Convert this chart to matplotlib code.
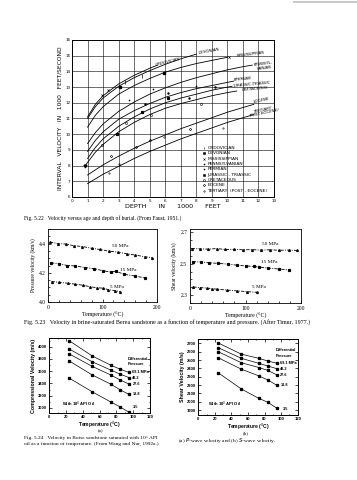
import matplotlib
matplotlib.use("Agg")
import matplotlib.pyplot as plt
from matplotlib.patches import Rectangle

W, H = 357, 480
SANS = "DejaVu Sans"
SERIF = "Liberation Serif"
HELV = "Liberation Sans"

# ---------------- Fig 5.22 data (depth in 1000 ft, velocity in 1000 ft/s) ----------------
ordo_d = [1.0, 1.5, 2, 3, 4, 5, 5.5]
ordo_v = [11.1, 11.9, 12.45, 13.2, 13.75, 14.2, 14.4]
devo_d = [1.0, 1.5, 2, 3, 4, 5, 6, 7, 8]
devo_v = [11.0, 11.75, 12.3, 13.05, 13.6, 14.05, 14.45, 14.8, 15.1]
miss_d = [1.0, 1.5, 2, 3, 4, 5, 6, 7, 8, 9, 10]
miss_v = [10.45, 11.2, 11.75, 12.55, 13.1, 13.55, 13.95, 14.25, 14.5, 14.7, 14.9]
penn_d = [1.0, 1.5, 2, 3, 4, 5, 6, 7, 8, 9, 10, 11, 11.6]
penn_v = [9.4, 10.1, 10.65, 11.45, 12.05, 12.55, 12.95, 13.3, 13.6, 13.85, 14.1, 14.3, 14.4]
perm_d = [1.0, 1.5, 2, 3, 4, 5, 6, 7, 8, 9, 10, 10.4]
perm_v = [8.9, 9.6, 10.15, 10.95, 11.5, 11.95, 12.35, 12.65, 12.9, 13.1, 13.3, 13.38]
jura_d = [1.0, 1.5, 2, 3, 4, 5, 6, 7, 8, 9, 10, 10.3]
jura_v = [8.45, 9.15, 9.7, 10.5, 11.1, 11.6, 12.0, 12.3, 12.55, 12.8, 13.0, 13.05]
cret_d = [0.85, 1.0, 1.5, 2, 3, 4, 5, 6, 7, 8, 9, 10, 10.6]
cret_v = [8.0, 8.2, 8.85, 9.35, 10.15, 10.75, 11.25, 11.65, 11.95, 12.2, 12.45, 12.65, 12.75]
eoc_d = [1.0, 2, 3, 4, 5, 6, 7, 8, 9, 10, 11, 11.7]
eoc_v = [7.4, 8.05, 8.6, 9.1, 9.55, 9.95, 10.35, 10.7, 11.05, 11.4, 11.7, 11.9]
tert_d = [1.0, 2, 3, 4, 5, 6, 7, 8, 9, 10, 11, 11.7]
tert_v = [6.85, 7.45, 7.95, 8.45, 8.9, 9.3, 9.7, 10.05, 10.4, 10.75, 11.05, 11.25]

# observed points
pts_ordo = ([4.5, 3.4], [13.7, 13.3])
pts_devo = ([3.1, 5.9], [13.0, 13.9])
pts_miss = ([1.9, 2.3, 10.1], [12.5, 12.8, 14.9])
pts_penn = ([5.2, 8.0, 3.7], [12.9, 13.1, 12.2])
pts_perm = ([4.7, 7.5, 9.2, 6.2], [11.9, 12.3, 13.0, 12.6])
pts_jura = ([6.2, 4.5, 2.9], [12.3, 11.4, 10.0])
pts_cret = ([3.5, 5.1, 8.3, 1.9], [10.7, 11.2, 11.9, 9.3])
pts_eoc = ([2.5, 4.1, 7.6, 5.0], [8.6, 9.2, 10.3, 9.6])
pts_tert = ([3.0, 5.9, 9.7, 2.4], [8.1, 9.8, 10.4, 7.5])
pts_start = ([0.85], [8.0])

legend_labels = ["ORDOVICIAN", "DEVONIAN", "MISSISSIPPIAN", "PENNSYLVANIAN", "PERMIAN",
                 "JURASSIC - TRIASSIC", "CRETACEOUS", "EOCENE", "TERTIARY  (POST - EOCENE)"]

# ---------------- Fig 5.23 data (temperature C, velocity km/s) ----------------
p50_T = [3, 18, 33, 48, 63, 80, 95, 112, 128, 145, 160, 178, 192]
p50_v = [4.41, 4.40, 4.397, 4.385, 4.38, 4.368, 4.36, 4.348, 4.342, 4.33, 4.322, 4.31, 4.303]
p15_T = [5, 20, 35, 50, 68, 85, 100, 115, 125, 140, 160, 178]
p15_v = [4.268, 4.262, 4.25, 4.247, 4.236, 4.228, 4.215, 4.205, 4.21, 4.19, 4.178, 4.165]
p5_T = [6, 20, 37, 50, 64, 77, 89, 100, 111, 123, 133]
p5_v = [4.14, 4.135, 4.128, 4.122, 4.115, 4.105, 4.098, 4.095, 4.085, 4.078, 4.07]
s50_T = [3, 18, 33, 48, 63, 80, 95, 112, 128, 145, 160, 178, 192]
s50_v = [2.596, 2.594, 2.592, 2.596, 2.59, 2.591, 2.588, 2.589, 2.586, 2.588, 2.585, 2.586, 2.584]
s15_T = [5, 20, 35, 50, 68, 85, 100, 115, 125, 140, 160, 178]
s15_v = [2.513, 2.51, 2.505, 2.502, 2.497, 2.49, 2.486, 2.482, 2.478, 2.472, 2.466, 2.46]
s5_T = [6, 18, 30, 40, 49, 67, 85, 103, 121]
s5_v = [2.352, 2.348, 2.345, 2.34, 2.338, 2.332, 2.327, 2.322, 2.318]

# ---------------- Fig 5.24 data (temperature C, velocity m/s) ----------------
pres_labels = ["69.1 MPa", "48.2", "27.6", "13.8", "3.5"]
vp_T = [24, 51, 73, 84, 95]
vp = [[4095, 3850, 3700, 3635, 3580],
      [3960, 3755, 3620, 3555, 3495],
      [3880, 3680, 3540, 3460, 3390],
      [3765, 3540, 3390, 3300, 3220],
      [3485, 3265, 3100, 3020, 2930]]
vs_T = [24, 52, 73, 84, 95]
vs = [[2705, 2570, 2520, 2488, 2460],
      [2648, 2520, 2460, 2428, 2395],
      [2600, 2467, 2410, 2375, 2320],
      [2527, 2390, 2310, 2260, 2195],
      [2347, 2152, 2040, 1992, 1920]]

fig = plt.figure(figsize=(W / 100, H / 100), dpi=100)


def ax_px(x0, y0, x1, y1):
    return fig.add_axes([x0 / W, 1 - y1 / H, (x1 - x0) / W, (y1 - y0) / H])


def ftext(x, y, s, **kw):
    fig.text(x / W, 1 - y / H, s, **kw)


# gray scan mark at top right
fig.add_artist(Rectangle((293 / W, 1 - 3 / H), 64 / W, 2 / H, transform=fig.transFigure,
                         color="#c8c8c8", lw=0))

# ================= Fig 5.22 =================
ax1 = ax_px(72, 40, 274, 197)
ax1.set_xlim(0, 13)
ax1.set_ylim(6, 16)
ax1.set_xticks(range(0, 14))
ax1.set_yticks(range(6, 17))
ax1.grid(True, color="k", lw=0.4)
ax1.tick_params(length=0, labelsize=3.0, pad=1.2)
for lab in ax1.get_xticklabels() + ax1.get_yticklabels():
    lab.set_family(SANS)
for s in ax1.spines.values():
    s.set_linewidth(0.7)

for d, v in [(ordo_d, ordo_v), (devo_d, devo_v), (miss_d, miss_v), (penn_d, penn_v),
             (perm_d, perm_v), (jura_d, jura_v), (cret_d, cret_v), (eoc_d, eoc_v),
             (tert_d, tert_v)]:
    ax1.plot(d, v, color="k", lw=0.6)

mk = dict(color="k", ls="none")
ax1.plot(*pts_ordo, marker="|", ms=2.2, mew=0.5, **mk)
ax1.plot(*pts_devo, marker="s", ms=1.6, **mk)
ax1.plot(*pts_miss, marker="x", ms=1.6, mew=0.4, **mk)
ax1.plot(*pts_penn, marker="+", ms=1.8, mew=0.4, **mk)
ax1.plot(*pts_perm, marker=".", ms=1.5, **mk)
ax1.plot(*pts_jura, marker="s", ms=1.3, **mk)
ax1.plot(*pts_cret, marker="o", ms=1.5, mfc="none", mew=0.4, **mk)
ax1.plot(*pts_eoc, marker="D", ms=1.3, mfc="none", mew=0.4, **mk)
ax1.plot(*pts_tert, marker="o", ms=1.0, mfc="none", mew=0.4, **mk)
ax1.plot(*pts_start, marker="v", ms=2.0, **mk)

lab_kw = dict(fontsize=2.9, family=SANS, ha="center", va="center", style="italic")
ax1.text(6.2, 14.62, "ORDOVICIAN", rotation=14, **lab_kw)
ax1.text(8.85, 15.3, "DEVONIAN", rotation=10, **lab_kw)
ax1.text(11.5, 15.12, "MISSISSIPPIAN", rotation=7, **lab_kw)
ax1.text(12.35, 14.35, "PENNSYL-\nVANIAN", rotation=7, linespacing=0.9, **lab_kw)
ax1.text(11.0, 13.5, "PERMIAN", rotation=6, **lab_kw)
ax1.text(11.6, 13.17, "JURASSIC-TRIASSIC", rotation=5, **lab_kw)
ax1.text(11.75, 12.88, "CRETACEOUS", rotation=5, **lab_kw)
ax1.text(12.2, 12.15, "EOCENE", rotation=12, **lab_kw)
ax1.text(12.35, 11.45, "TERTIARY\n(POST-EOCENE)", rotation=12, linespacing=0.9, **lab_kw)

leg_markers = ["|", "s", "x", "+", ".", "s", "o", "D", "o"]
leg_fill = ["k", "k", "k", "k", "k", "k", "none", "none", "none"]
leg_ms = [2.0, 1.4, 1.5, 1.7, 1.5, 1.4, 1.4, 1.2, 1.0]
for i, lab in enumerate(legend_labels):
    ypx = 148 + i * 5.35
    ya = 1 - (ypx - 40) / 157
    xa = (204 - 72) / 202
    ax1.plot([xa], [ya], transform=ax1.transAxes, marker=leg_markers[i], ms=leg_ms[i],
             mfc=leg_fill[i], mec="k", mew=0.4, color="k", clip_on=False)
    ax1.text(xa + 0.017, ya, lab, transform=ax1.transAxes, fontsize=3.2, family=SANS,
             va="center", ha="left")

ftext(60.5, 118, "INTERVAL   VELOCITY   IN   1000   FEET/SECOND", rotation=90,
      fontsize=4.3, family=SANS, ha="center", va="center")
ftext(173, 207, "DEPTH      IN      1000      FEET", fontsize=4.6,
      family=SANS, ha="center", va="center")
ftext(24, 218, "Fig. 5.22   Velocity versus age and depth of burial. (From Faust, 1951.)",
      fontsize=4.0, family=SERIF, ha="left", va="center")

# ================= Fig 5.23 =================
ax2 = ax_px(48.3, 229, 156.7, 302)
ax3 = ax_px(190, 229, 301, 303)
for ax in (ax2, ax3):
    ax.set_xlim(0, 200)
    ax.set_xticks([0, 100, 200])
    ax.set_xticks(range(0, 201, 20), minor=True)
    ax.tick_params(which="both", direction="in", labelsize=4.0, pad=2, width=0.5)
    ax.tick_params(which="major", length=2.5)
    ax.tick_params(which="minor", length=1.3)
    for s in ax.spines.values():
        s.set_linewidth(0.6)
    ax.set_xlabel("Temperature (°C)", fontsize=4.2, family=SERIF, labelpad=1.5)
ax2.set_ylim(4.0, 4.5)
ax2.set_yticks([4.0, 4.2, 4.4])
ax2.set_yticks([4.0 + 0.05 * i for i in range(11)], minor=True)
ax2.set_yticklabels(["4.0", "4.2", "4.4"])
ax3.set_ylim(2.25, 2.72)
ax3.set_yticks([2.3, 2.5, 2.7])
ax3.set_yticks([2.25 + 0.05 * i for i in range(10)], minor=True)
ax3.set_yticklabels(["2.3", "2.5", "2.7"])
for ax in (ax2, ax3):
    for lab in ax.get_xticklabels() + ax.get_yticklabels():
        lab.set_family(SERIF)
ax2.set_ylabel("Pressure velocity (km/s)", fontsize=4.0, family=SERIF, labelpad=2)
ax3.set_ylabel("Shear velocity (km/s)", fontsize=4.0, family=SERIF, labelpad=2)

dash = (0, (4, 1.5, 1.2, 1.5))
for ax, sets in ((ax2, [(p50_T, p50_v, "^"), (p15_T, p15_v, "s"), (p5_T, p5_v, "^")]),
                 (ax3, [(s50_T, s50_v, "^"), (s15_T, s15_v, "s"), (s5_T, s5_v, "^")])):
    for T, v, m in sets:
        ax.plot(T, v, color="k", lw=0.6, ls=dash)
        ax.plot(T, v, color="k", ls="none", marker=m, ms=1.3)

tk = dict(fontsize=3.8, family=SERIF, ha="left", va="center")
ax2.text(118, 4.385, "50 MPa", **tk)
ax2.text(132, 4.22, "15 MPa", **tk)
ax2.text(114, 4.102, "5 MPa", **tk)
ax3.text(130, 2.625, "50 MPa", **tk)
ax3.text(128, 2.512, "15 MPa", **tk)
ax3.text(112, 2.35, "5 MPa", **tk)

ftext(24, 322, "Fig. 5.23   Velocity in brine-saturated Berea sandstone as a function of temperature and pressure. (After Timur, 1977.)",
      fontsize=4.3, family=SERIF, ha="left", va="center")

# ================= Fig 5.24 =================
ax4 = ax_px(49.3, 338, 150, 413.3)
ax5 = ax_px(198.3, 339, 297.7, 415)
ax4.set_ylim(2913, 4142)
ax4.set_yticks(range(3000, 4001, 200))
ax4.set_yticks(range(3000, 4101, 100), minor=True)
ax5.set_ylim(1840, 2752)
ax5.set_yticks(range(1900, 2701, 100))
for ax, T, sets, lab in ((ax4, vp_T, vp, "Compressional Velocity (m/s)"),
                         (ax5, vs_T, vs, "Shear Velocity (m/s)")):
    ax.set_xlim(0, 120)
    ax.set_xticks(range(0, 121, 20))
    ax.set_xticks(range(0, 121, 10), minor=True)
    ax.tick_params(which="both", direction="in", top=True, right=True, labelsize=3.0,
                   pad=1.5, width=0.5)
    ax.tick_params(which="major", length=2.0)
    ax.tick_params(which="minor", length=1.0)
    for s in ax.spines.values():
        s.set_linewidth(0.7)
    for ln in ax.get_xticklabels() + ax.get_yticklabels():
        ln.set_family(HELV)
        ln.set_fontweight("bold")
    ax.set_ylabel(lab, fontsize=3.8, family=HELV, fontweight="bold", labelpad=1.5)
    ax.set_xlabel("Temperature ($^{0}$C)", fontsize=3.6, family=HELV, fontweight="bold",
                  labelpad=0.3)
    for v in sets:
        ax.plot(T, v, color="k", lw=0.5, marker="s", ms=1.4)
    for v, pl in zip(sets[:-1], pres_labels[:-1]):
        ax.text(T[-1] + 4, v[-1], pl, fontsize=2.8, family=HELV, fontweight="bold",
                ha="left", va="center")

ax4.text(100, 3015, "3.5", fontsize=2.8, family=HELV, fontweight="bold", ha="left",
         va="center")
ax5.text(102, 1912, "3.5", fontsize=2.8, family=HELV, fontweight="bold", ha="left",
         va="center")
ax4.text(93, 3760, "Differential\nPressure", fontsize=2.8, family=HELV, fontweight="bold",
         ha="left", va="center", linespacing=1.5)
ax5.text(94, 2585, "Differential\nPressure", fontsize=2.8, family=HELV, fontweight="bold",
         ha="left", va="center", linespacing=1.5)
ax4.text(15, 3065, "With 10$^{0}$ API Oil", fontsize=3.0, family=HELV, fontweight="bold",
         ha="left", va="center")
ax5.text(12, 1962, "With 10$^{0}$ API Oil", fontsize=3.0, family=HELV, fontweight="bold",
         ha="left", va="center")
ftext(100, 431, "(a)", fontsize=3.6, family=SERIF, ha="center", va="center")
ftext(246, 433, "(b)", fontsize=3.6, family=SERIF, ha="center", va="center")

ftext(24, 438, "Fig. 5.24   Velocity in Boise sandstone saturated with 10° API",
      fontsize=3.9, family=SERIF, ha="left", va="center")
ftext(24, 443.5, "oil as a function of temperature. (From Wang and Nur, 1992a.)",
      fontsize=3.9, family=SERIF, ha="left", va="center")
ftext(178, 440.5, "(a) $P$-wave velocity and (b) $S$-wave velocity.",
      fontsize=3.9, family=SERIF, ha="left", va="center")

fig.savefig("out.png", dpi=100, facecolor="white")
